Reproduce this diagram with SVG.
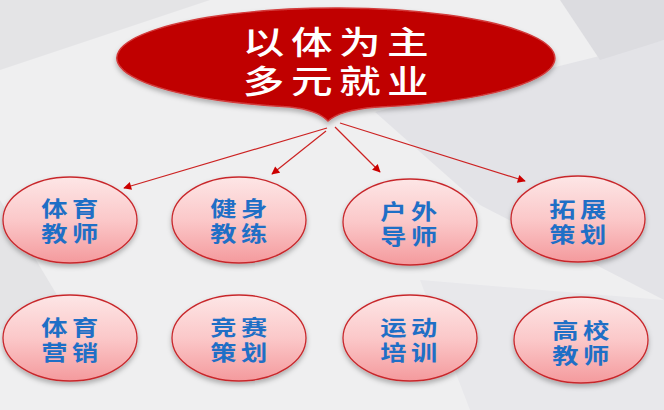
<svg xmlns="http://www.w3.org/2000/svg" width="664" height="410" viewBox="0 0 664 410">
  <defs>
    <linearGradient id="pinkGrad" x1="0" y1="0" x2="0" y2="1">
      <stop offset="0" stop-color="#fde6e6"/>
      <stop offset="0.5" stop-color="#fbc8c9"/>
      <stop offset="1" stop-color="#f49a9d"/>
    </linearGradient>
    <filter id="shadow" x="-20%" y="-20%" width="140%" height="150%">
      <feDropShadow dx="0" dy="3" stdDeviation="2.5" flood-color="#000000" flood-opacity="0.28"/>
    </filter>
    <marker id="arrow" viewBox="0 0 10 10" refX="9" refY="5" markerWidth="9" markerHeight="8" markerUnits="userSpaceOnUse" orient="auto">
      <path d="M0,0 L10,5 L0,10 Z" fill="#cc0000"/>
    </marker>
    <style>
      .node ellipse { fill: url(#pinkGrad); stroke: #c8282c; stroke-width: 1.3; filter: url(#shadow); }
      .node text { font-family: "Noto Sans CJK SC", "Noto Sans", sans-serif; font-size: 21px; font-weight: bold; fill: #1f6fc6; text-anchor: middle; letter-spacing: 3.5px; }
      .title text { font-family: "Noto Sans CJK SC", "Noto Sans", sans-serif; font-size: 32px; font-weight: 500; fill: #ffffff; text-anchor: middle; letter-spacing: 5px; }
      .conn line { stroke: #cc2222; stroke-width: 1.2; marker-end: url(#arrow); }
    </style>
  </defs>

  <!-- background -->
  <rect x="0" y="0" width="664" height="410" fill="#efeff0"/>
  <polygon points="0,0 210,0 0,70" fill="#e4e4e6"/>
  <polygon points="375,112 664,40 664,300 480,205" fill="#e3e3e7"/>
  <polygon points="560,0 664,0 664,40 600,60" fill="#dcdce0"/>
  <polygon points="0,200 60,300 0,330" fill="#e4e4e6"/>
  <polygon points="420,280 664,300 664,410 470,410" fill="#e8e8eb"/>

  <!-- title node -->
  <g id="title" class="title">
    <path d="M 290 106.9 A 219 50 0 1 1 375 107.2 Q 340 110 328 121 Q 318 110 290 106.9 Z" fill="#c00000" stroke="#d23a3a" stroke-width="1.5" filter="url(#shadow)"/>
    <g transform="translate(339,0) scale(1.3,1)">
      <text><tspan x="0" y="54">以体为主</tspan><tspan x="0" y="93">多元就业</tspan></text>
    </g>
  </g>

  <!-- connectors -->
  <g id="connectors" class="conn">
    <line x1="327" y1="128" x2="124" y2="188"/>
    <line x1="326" y1="131" x2="272" y2="174"/>
    <line x1="335" y1="127" x2="380" y2="172"/>
    <line x1="340" y1="123" x2="525" y2="181"/>
  </g>

  <!-- row 1 -->
  <g id="n1" class="node">
    <ellipse cx="70" cy="220" rx="67" ry="43"/>
    <g transform="translate(72,0) scale(1.25,1)"><text><tspan x="0" y="216">体育</tspan><tspan x="0" y="241">教师</tspan></text></g>
  </g>
  <g id="n2" class="node">
    <ellipse cx="239" cy="220" rx="67" ry="43"/>
    <g transform="translate(241,0) scale(1.25,1)"><text><tspan x="0" y="216">健身</tspan><tspan x="0" y="241">教练</tspan></text></g>
  </g>
  <g id="n3" class="node">
    <ellipse cx="410" cy="222" rx="67" ry="43"/>
    <g transform="translate(411,0) scale(1.25,1)"><text><tspan x="0" y="219">户外</tspan><tspan x="0" y="244">导师</tspan></text></g>
  </g>
  <g id="n4" class="node">
    <ellipse cx="578" cy="219" rx="67" ry="43"/>
    <g transform="translate(580,0) scale(1.25,1)"><text><tspan x="0" y="217">拓展</tspan><tspan x="0" y="242">策划</tspan></text></g>
  </g>

  <!-- row 2 -->
  <g id="n5" class="node">
    <ellipse cx="70" cy="338" rx="67" ry="43"/>
    <g transform="translate(72,0) scale(1.25,1)"><text><tspan x="0" y="335">体育</tspan><tspan x="0" y="360">营销</tspan></text></g>
  </g>
  <g id="n6" class="node">
    <ellipse cx="239" cy="338" rx="67" ry="43"/>
    <g transform="translate(241,0) scale(1.25,1)"><text><tspan x="0" y="335">竞赛</tspan><tspan x="0" y="360">策划</tspan></text></g>
  </g>
  <g id="n7" class="node">
    <ellipse cx="410" cy="338" rx="67" ry="43"/>
    <g transform="translate(411,0) scale(1.25,1)"><text><tspan x="0" y="335">运动</tspan><tspan x="0" y="360">培训</tspan></text></g>
  </g>
  <g id="n8" class="node">
    <ellipse cx="581" cy="340" rx="67" ry="43"/>
    <g transform="translate(583,0) scale(1.25,1)"><text><tspan x="0" y="338">高校</tspan><tspan x="0" y="363">教师</tspan></text></g>
  </g>
</svg>
